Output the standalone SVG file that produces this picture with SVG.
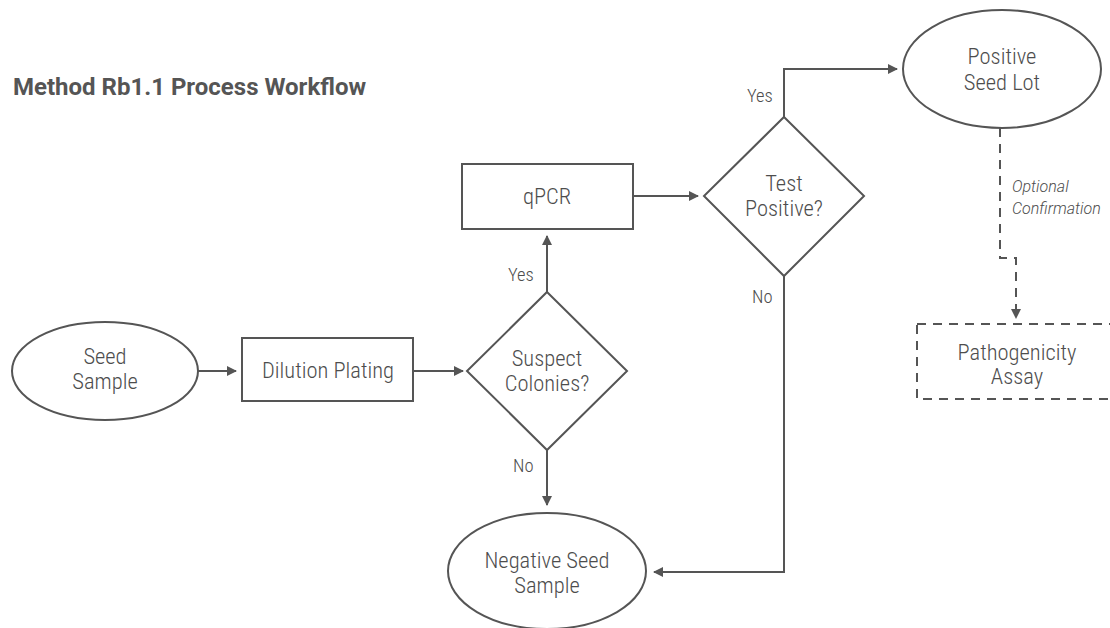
<svg xmlns="http://www.w3.org/2000/svg" width="1110" height="628" viewBox="0 0 1110 628">
<defs>
<style>
.s{fill:#fff;stroke:#555;stroke-width:2}
.d{fill:#fff;stroke:#555;stroke-width:2;stroke-dasharray:9 7}
.t{font-family:"Roboto Condensed","Liberation Sans Narrow","DejaVu Sans Condensed",sans-serif;font-size:22.5px;font-weight:300;fill:#4d4d4d;text-anchor:middle}
.l{font-family:"Roboto Condensed","Liberation Sans Narrow","DejaVu Sans Condensed",sans-serif;font-size:18.5px;font-weight:300;fill:#4d4d4d}
.i{font-family:Roboto,"Liberation Sans",sans-serif;font-size:16px;font-style:italic;font-weight:300;fill:#4d4d4d}
.h{font-family:Roboto,"Liberation Sans",sans-serif;font-size:24px;font-weight:bold;fill:#555}
.c{fill:none;stroke:#555;stroke-width:2}
.cd{fill:none;stroke:#555;stroke-width:2;stroke-dasharray:9 7}
</style>
<marker id="a" viewBox="0 0 10 10" refX="9" refY="5" markerWidth="10" markerHeight="10" markerUnits="userSpaceOnUse" orient="auto">
<path d="M0,0 L10,5 L0,10 z" fill="#555"/>
</marker>
</defs>
<rect width="1110" height="628" fill="#fff"/>
<text class="h" x="13" y="95">Method Rb1.1 Process Workflow</text>
<g id="connectors">
<path class="c" d="M198,371 H236" marker-end="url(#a)"/>
<path class="c" d="M413,371 H463" marker-end="url(#a)"/>
<path class="c" d="M547,292 V236" marker-end="url(#a)"/>
<path class="c" d="M633,196 H698" marker-end="url(#a)"/>
<path class="c" d="M547,450 V505" marker-end="url(#a)"/>
<path class="c" d="M784,117 V69 H897" marker-end="url(#a)"/>
<path class="c" d="M784,276 V572 H654" marker-end="url(#a)"/>
<path class="cd" d="M1000,128 V258 H1016 V318" marker-end="url(#a)"/>
<text class="l" x="508" y="281">Yes</text>
<text class="l" x="513" y="472">No</text>
<text class="l" x="747" y="102">Yes</text>
<text class="l" x="752" y="303">No</text>
<text class="i" x="1012" y="192">Optional</text>
<text class="i" x="1012" y="214">Confirmation</text>
</g>
<g id="seed-sample">
<ellipse class="s" cx="105" cy="371" rx="93" ry="49"/>
<text class="t" x="105" y="364">Seed</text>
<text class="t" x="105" y="389">Sample</text>
</g>
<g id="dilution-plating">
<rect class="s" x="242" y="338" width="171" height="63"/>
<text class="t" x="328" y="378">Dilution Plating</text>
</g>
<g id="suspect-colonies">
<path class="s" d="M547,292 L627,371 L547,450 L467,371 z"/>
<text class="t" x="547" y="366">Suspect</text>
<text class="t" x="547" y="391">Colonies?</text>
</g>
<g id="qpcr">
<rect class="s" x="462" y="164" width="171" height="65"/>
<text class="t" x="547" y="204">qPCR</text>
</g>
<g id="test-positive">
<path class="s" d="M784,117 L864,196 L784,276 L704,196 z"/>
<text class="t" x="784" y="191">Test</text>
<text class="t" x="784" y="216">Positive?</text>
</g>
<g id="positive-seed-lot">
<ellipse class="s" cx="1002" cy="69" rx="99" ry="59"/>
<text class="t" x="1002" y="64">Positive</text>
<text class="t" x="1002" y="90">Seed Lot</text>
</g>
<g id="negative-seed-sample">
<ellipse class="s" cx="547" cy="571" rx="99" ry="58"/>
<text class="t" x="547" y="568">Negative Seed</text>
<text class="t" x="547" y="593">Sample</text>
</g>
<g id="pathogenicity-assay">
<rect class="d" x="917" y="324" width="202" height="75"/>
<text class="t" x="1017" y="360">Pathogenicity</text>
<text class="t" x="1017" y="384">Assay</text>
</g>
</svg>
